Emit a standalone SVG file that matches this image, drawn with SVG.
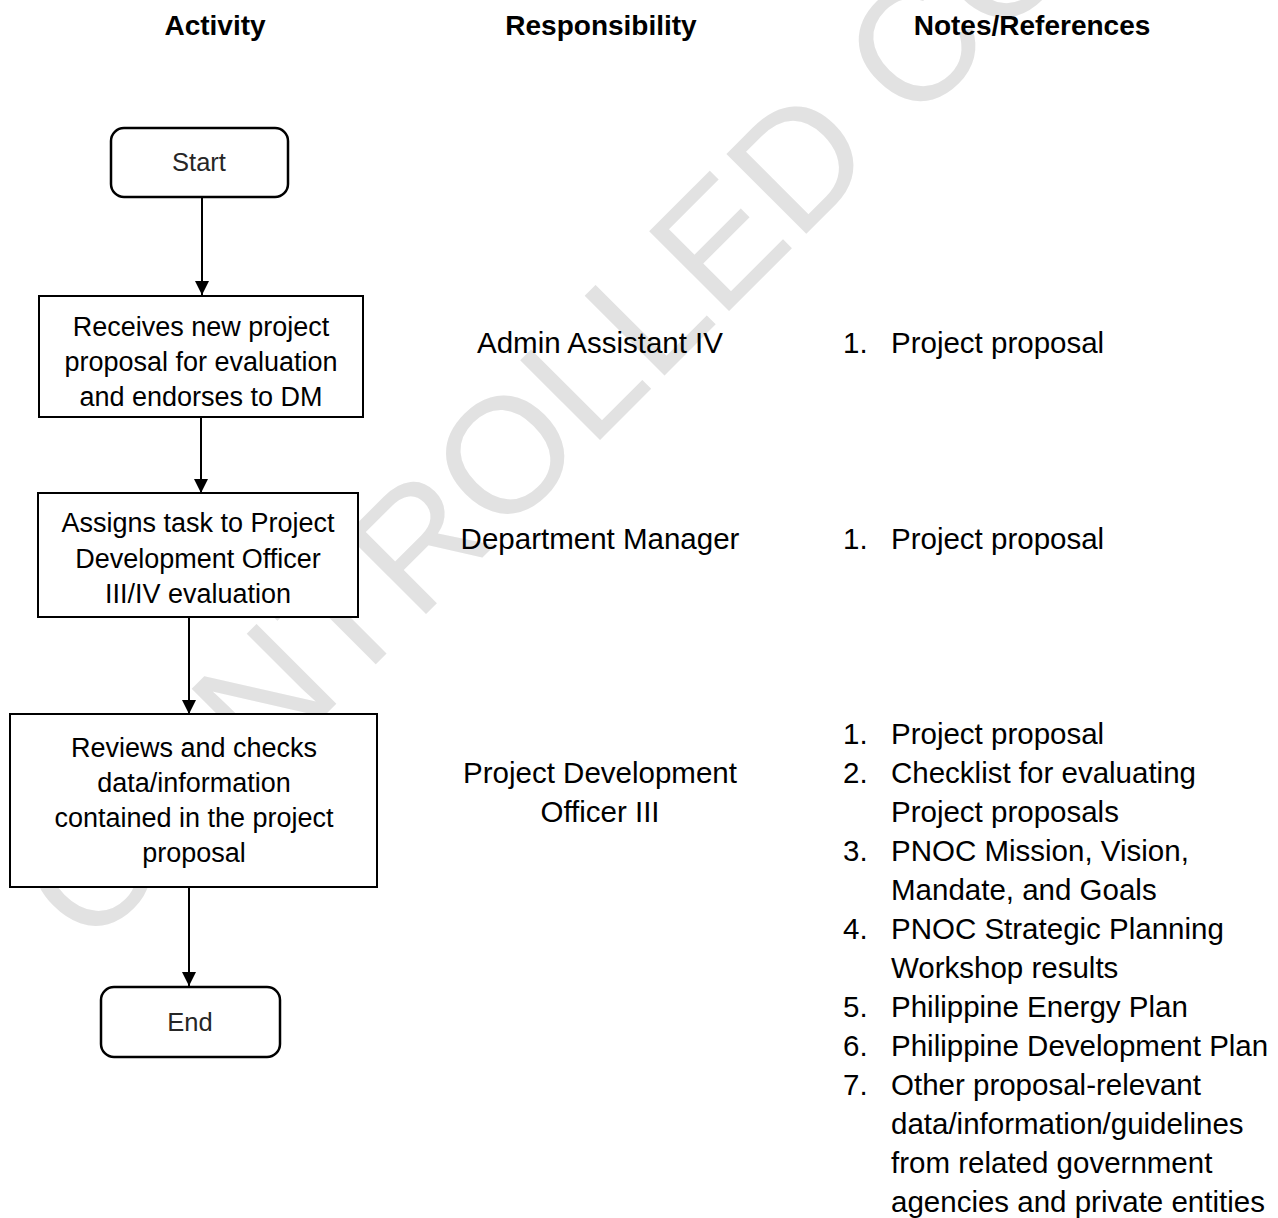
<svg xmlns="http://www.w3.org/2000/svg" width="1278" height="1218" viewBox="0 0 1278 1218">
  <style>
    .hdr { font-family: "Liberation Sans", Arial, sans-serif; font-weight: bold; font-size: 28px; fill: #000; text-anchor: middle; }
    .box { fill: #fff; stroke: #000; stroke-width: 2; }
    .term { fill: #fff; stroke: #000; stroke-width: 2.5; }
    .bt { font-family: "Liberation Sans", Arial, sans-serif; font-size: 27px; fill: #000; text-anchor: middle; }
    .tt { font-family: "Liberation Sans", Arial, sans-serif; font-size: 25.5px; fill: #262626; text-anchor: middle; }
    .rt { font-family: "Liberation Sans", Arial, sans-serif; font-size: 29.5px; fill: #000; text-anchor: middle; }
    .nt { font-family: "Liberation Sans", Arial, sans-serif; font-size: 29.5px; fill: #000; }
    .wm { font-family: "Liberation Sans", Arial, sans-serif; font-size: 164px; fill: #e2e2e2; }
    .edge { stroke: #000; stroke-width: 2; fill: none; marker-end: url(#arrow); }
  </style>
  <defs>
    <marker id="arrow" viewBox="0 0 14 14" refX="14" refY="7" markerWidth="14" markerHeight="14" markerUnits="userSpaceOnUse" orient="auto">
      <path d="M0,0 L14,7 L0,14 z" fill="#000"/>
    </marker>
  </defs>
  <rect width="1278" height="1218" fill="#fff"/>

  <g id="watermark">
    <text class="wm" x="88" y="952" transform="rotate(-45 88 952)">CONTROLLED COPY</text>
  </g>

  <g id="headers">
    <text class="hdr" x="215" y="35">Activity</text>
    <text class="hdr" x="601" y="35">Responsibility</text>
    <text class="hdr" x="1032" y="35">Notes/References</text>
  </g>

  <g id="connectors">
    <line class="edge" x1="202" y1="198" x2="202" y2="295"/>
    <line class="edge" x1="201" y1="417" x2="201" y2="493"/>
    <line class="edge" x1="189" y1="618" x2="189" y2="714"/>
    <line class="edge" x1="189" y1="887" x2="189" y2="986"/>
  </g>

  <g id="start">
    <rect class="term" x="111" y="128" width="177" height="69" rx="13"/>
    <text class="tt" x="199" y="171">Start</text>
  </g>

  <g id="receive">
    <rect class="box" x="39" y="296" width="324" height="121"/>
    <text class="bt" x="201" y="336">Receives new project</text>
    <text class="bt" x="201" y="371">proposal for evaluation</text>
    <text class="bt" x="201" y="406">and endorses to DM</text>
  </g>

  <g id="assign">
    <rect class="box" x="38" y="493" width="320" height="124"/>
    <text class="bt" x="198" y="532">Assigns task to Project</text>
    <text class="bt" x="198" y="568">Development Officer</text>
    <text class="bt" x="198" y="603">III/IV evaluation</text>
  </g>

  <g id="review">
    <rect class="box" x="10" y="714" width="367" height="173"/>
    <text class="bt" x="194" y="757">Reviews and checks</text>
    <text class="bt" x="194" y="792">data/information</text>
    <text class="bt" x="194" y="827">contained in the project</text>
    <text class="bt" x="194" y="862">proposal</text>
  </g>

  <g id="end">
    <rect class="term" x="101" y="987" width="179" height="70" rx="13"/>
    <text class="tt" x="190" y="1031">End</text>
  </g>

  <g id="responsibility">
    <text class="rt" x="600" y="353">Admin Assistant IV</text>
    <text class="rt" x="600" y="549">Department Manager</text>
    <text class="rt" x="600" y="783">Project Development</text>
    <text class="rt" x="600" y="822">Officer III</text>
  </g>

  <g id="notes">
    <text class="nt" x="843" y="353">1.</text>
    <text class="nt" x="891" y="353">Project proposal</text>
    <text class="nt" x="843" y="549">1.</text>
    <text class="nt" x="891" y="549">Project proposal</text>

    <text class="nt" x="843" y="744">1.</text>
    <text class="nt" x="891" y="744">Project proposal</text>
    <text class="nt" x="843" y="783">2.</text>
    <text class="nt" x="891" y="783">Checklist for evaluating</text>
    <text class="nt" x="891" y="822">Project proposals</text>
    <text class="nt" x="843" y="861">3.</text>
    <text class="nt" x="891" y="861">PNOC Mission, Vision,</text>
    <text class="nt" x="891" y="900">Mandate, and Goals</text>
    <text class="nt" x="843" y="939">4.</text>
    <text class="nt" x="891" y="939">PNOC Strategic Planning</text>
    <text class="nt" x="891" y="978">Workshop results</text>
    <text class="nt" x="843" y="1017">5.</text>
    <text class="nt" x="891" y="1017">Philippine Energy Plan</text>
    <text class="nt" x="843" y="1056">6.</text>
    <text class="nt" x="891" y="1056">Philippine Development Plan</text>
    <text class="nt" x="843" y="1095">7.</text>
    <text class="nt" x="891" y="1095">Other proposal-relevant</text>
    <text class="nt" x="891" y="1134">data/information/guidelines</text>
    <text class="nt" x="891" y="1173">from related government</text>
    <text class="nt" x="891" y="1212">agencies and private entities</text>
  </g>
</svg>
